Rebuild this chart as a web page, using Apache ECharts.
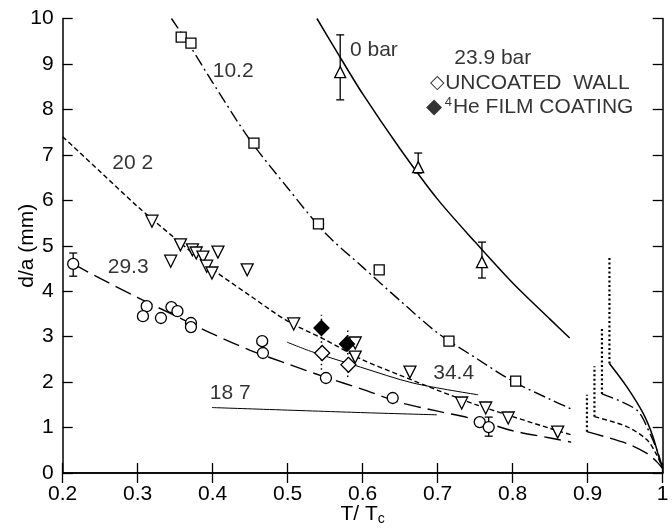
<!DOCTYPE html>
<html>
<head>
<meta charset="utf-8">
<script src="https://cdn.jsdelivr.net/npm/echarts@6/dist/echarts.min.js"></script>
<style>
  html, body { margin: 0; padding: 0; background: #fff; }
  #chart { width: 672px; height: 531px; }
</style>
</head>
<body>
<div id="chart"></div>
<script>
// ---- data ----
const xTicks = [0.2, 0.3, 0.4, 0.5, 0.6, 0.7, 0.8, 0.9, 1];
const yTicks = [0, 1, 2, 3, 4, 5, 6, 7, 8, 9, 10];

// 0 bar (triangles, solid)
const zeroBarPts = [[0.57, 8.82], [0.674, 6.73], [0.759, 4.64]];
const zeroBarErr = [[0.57, 8.21, 9.64], [0.674, 6.6, 7.04], [0.759, 4.29, 5.08]];
const zeroBarCurve = [[0.539, 10.0], [0.564, 9.31], [0.6, 8.34], [0.65, 7.13], [0.7, 6.02],
  [0.75, 5.08], [0.8, 4.18], [0.85, 3.38], [0.876, 2.97]];
const zeroBarTail = [[0.929, 2.41], [0.952, 1.9], [0.974, 1.31], [0.987, 0.8], [0.996, 0.29], [1.0, 0.1]];

// 10.2 bar (squares, dash-dot)
const p102Pts = [[0.358, 9.59], [0.371, 9.46], [0.455, 7.26], [0.541, 5.48], [0.622, 4.47], [0.715, 2.9], [0.804, 2.02]];
const p102Curve = [[0.345, 10.0], [0.373, 9.31], [0.4, 8.59], [0.45, 7.32], [0.5, 6.27], [0.55, 5.28],
  [0.6, 4.53], [0.65, 3.79], [0.7, 3.08], [0.75, 2.54], [0.8, 2.02], [0.85, 1.62], [0.878, 1.41]];
const p102Tail = [[0.919, 1.74], [0.965, 1.39], [0.983, 0.87], [0.994, 0.43], [1.0, 0.1]];

// 20.2 bar (down triangles, short dash)
const p202Pts = [[0.319, 5.54], [0.357, 5.02], [0.373, 4.91], [0.378, 4.84], [0.387, 4.75], [0.392, 4.55],
  [0.399, 4.4], [0.407, 4.86], [0.344, 4.66], [0.446, 4.47], [0.508, 3.28], [0.59, 2.86], [0.59, 2.55],
  [0.663, 2.22], [0.732, 1.54], [0.764, 1.43], [0.794, 1.21], [0.86, 0.9]];
const p202Curve = [[0.2, 7.4], [0.25, 6.63], [0.3, 5.86], [0.35, 5.16], [0.4, 4.48], [0.45, 3.9], [0.5, 3.34],
  [0.55, 2.93], [0.6, 2.49], [0.65, 2.15], [0.7, 1.82], [0.75, 1.51], [0.8, 1.24], [0.85, 0.98], [0.878, 0.84]];
const p202Tail = [[0.909, 1.24], [0.952, 1.02], [0.979, 0.73], [0.992, 0.4], [1.0, 0.1]];

// 29.3 bar (circles, long dash)
const p293Pts = [[0.214, 4.6], [0.312, 3.67], [0.307, 3.45], [0.331, 3.41], [0.345, 3.65], [0.353, 3.56],
  [0.371, 3.3], [0.371, 3.21], [0.466, 2.9], [0.467, 2.64], [0.551, 2.09], [0.64, 1.65], [0.756, 1.12], [0.768, 1.01]];
const p293Err = [[0.214, 4.33, 4.84], [0.768, 0.81, 1.23]];
const p293Curve = [[0.214, 4.6], [0.25, 4.28], [0.3, 3.86], [0.35, 3.46], [0.4, 3.06], [0.45, 2.7], [0.5, 2.4],
  [0.55, 2.11], [0.6, 1.84], [0.65, 1.55], [0.7, 1.36], [0.75, 1.18], [0.8, 0.93], [0.85, 0.77], [0.878, 0.68]];
const p293Tail = [[0.899, 0.91], [0.952, 0.65], [0.979, 0.43], [0.992, 0.25], [1.0, 0.1]];

// thin solid lines 18.7 and 34.4
const p187Line = [[0.399, 1.44], [0.597, 1.33], [0.699, 1.28]];
const p344Line = [[0.499, 2.88], [0.532, 2.67], [0.597, 2.33], [0.667, 1.98], [0.754, 1.72]];

// 23.9 bar diamonds
const uncoatedPts = [[0.546, 2.64], [0.581, 2.38]];
const coatedPts = [[0.545, 3.19], [0.579, 2.84]];
const diamondBars = [[0.545, 2.27, 3.48], [0.58, 2.11, 3.15]];

// dotted connectors near Tc
const tcSteps = [[0.929, 2.41, 4.76], [0.919, 1.74, 3.18], [0.909, 1.24, 2.35], [0.899, 0.91, 1.72]];

// text labels [x, y, text]
const curveLabels = [
  [0.583, 9.31, '0 bar'],
  [0.722, 9.13, '23.9 bar'],
  [0.69, 8.58, '{big|◇}UNCOATED  WALL'],
  [0.684, 8.05, '◆{sup|4}He FILM COATING'],
  [0.4, 8.84, '10.2'],
  [0.266, 6.82, '20 2'],
  [0.26, 4.53, '29.3'],
  [0.396, 1.76, '18 7'],
  [0.694, 2.2, '34.4']
];

const FONT = "'Liberation Sans', Arial, sans-serif";
const INK = '#000';

function lineSeries(data, dash, width) {
  return {
    type: 'line', data: data, smooth: 0.3, symbol: 'none', silent: true,
    lineStyle: { color: INK, width: width || 1.4, type: dash || 'solid' }, z: 2
  };
}

function barSeries(data, capW, dash, width) {
  return {
    type: 'custom', data: data, silent: true, z: 3,
    encode: { x: 0, y: [1, 2] },
    renderItem: function (params, api) {
      const lo = api.coord([api.value(0), api.value(1)]);
      const hi = api.coord([api.value(0), api.value(2)]);
      const st = { stroke: INK, lineWidth: width || 1.2, lineDash: dash || null };
      const kids = [{ type: 'line', shape: { x1: lo[0], y1: lo[1], x2: hi[0], y2: hi[1] }, style: st }];
      if (capW) {
        kids.push({ type: 'line', shape: { x1: lo[0] - capW, y1: lo[1], x2: lo[0] + capW, y2: lo[1] }, style: st });
        kids.push({ type: 'line', shape: { x1: hi[0] - capW, y1: hi[1], x2: hi[0] + capW, y2: hi[1] }, style: st });
      }
      return { type: 'group', children: kids };
    }
  };
}

function markSeries(data, symbol, size, fill, rotate) {
  return {
    type: 'scatter', data: data, symbol: symbol, symbolSize: size, symbolRotate: rotate || 0, silent: true, z: 4,
    itemStyle: { color: fill, borderColor: INK, borderWidth: 1.3, opacity: 1 }
  };
}

const chart = echarts.init(document.getElementById('chart'), null, { renderer: 'canvas' });

const option = {
  animation: false,
  backgroundColor: '#fff',
  textStyle: { fontFamily: FONT, color: INK },
  grid: { left: 62.7, right: 9.3, top: 18.5, bottom: 58 },
  xAxis: [
    {
      type: 'value', min: 0.2, max: 1, interval: 0.1,
      name: 'T/ T{sub|c}', nameLocation: 'middle', nameGap: 29, nameMoveOverlap: false,
      nameTextStyle: { fontSize: 21, color: INK, fontFamily: FONT, rich: { sub: { fontSize: 14, padding: [10, 0, 0, 0], fontFamily: FONT, color: INK } } },
      axisLine: { lineStyle: { color: INK, width: 1.5 } },
      axisTick: { inside: true, length: 10, lineStyle: { color: INK, width: 1.3 } },
      axisLabel: { fontSize: 21, color: INK, margin: 11, fontFamily: FONT,
        formatter: function (v) { return xTicks.indexOf(+v.toFixed(1)) >= 0 ? String(+v.toFixed(1)) : ''; } },
      splitLine: { show: false }
    },
    {
      type: 'value', min: 0.2, max: 1, interval: 0.1, position: 'top',
      axisLine: { lineStyle: { color: INK, width: 1.5 } },
      axisTick: { inside: true, length: 10, lineStyle: { color: INK, width: 1.3 } },
      axisLabel: { show: false }, splitLine: { show: false }
    }
  ],
  yAxis: [
    {
      type: 'value', min: 0, max: 10, interval: 1,
      name: 'd/a (mm)', nameLocation: 'middle', nameGap: 25, nameMoveOverlap: false,
      nameTextStyle: { fontSize: 21, color: INK, fontFamily: FONT },
      axisLine: { lineStyle: { color: INK, width: 1.5 } },
      axisTick: { inside: true, length: 10, lineStyle: { color: INK, width: 1.3 } },
      axisLabel: { fontSize: 21, color: INK, margin: 9, fontFamily: FONT,
        formatter: function (v) { return yTicks.indexOf(v) >= 0 ? String(v) : ''; } },
      splitLine: { show: false }
    },
    {
      type: 'value', min: 0, max: 10, interval: 1, position: 'right',
      axisLine: { show: true, lineStyle: { color: INK, width: 1.5 } },
      axisTick: { show: true, inside: true, length: 10, lineStyle: { color: INK, width: 1.3 } },
      axisLabel: { show: false }, splitLine: { show: false }
    }
  ],
  series: [
    lineSeries(zeroBarCurve, 'solid', 1.5),
    lineSeries(zeroBarTail, 'solid', 1.5),
    lineSeries(p102Curve, [12, 4, 2, 4], 1.4),
    lineSeries(p102Tail, [12, 4, 2, 4], 1.4),
    lineSeries(p202Curve, [5, 3], 1.4),
    lineSeries(p202Tail, [5, 3], 1.4),
    lineSeries(p293Curve, [17, 7], 1.4),
    lineSeries(p293Tail, [17, 7], 1.4),
    lineSeries(p187Line, 'solid', 1),
    lineSeries(p344Line, 'solid', 1),
    barSeries(tcSteps, 0, [2, 2.5], 2.2),
    barSeries(diamondBars, 0, [1.5, 3], 1.5),
    barSeries(zeroBarErr, 4, null, 1.3),
    barSeries(p293Err, 4, null, 1.3),
    markSeries(zeroBarPts, 'triangle', 11, '#fff'),
    markSeries(p102Pts, 'rect', 10, '#fff'),
    markSeries(p202Pts, 'triangle', 12, '#fff', 180),
    markSeries(p293Pts, 'circle', 11, '#fff'),
    markSeries(uncoatedPts, 'diamond', 15, '#fff'),
    markSeries(coatedPts, 'diamond', 15, INK),
    {
      type: 'scatter', data: curveLabels, symbolSize: 0, silent: true, z: 5,
      label: {
        show: true, position: [0, 0], align: 'left', verticalAlign: 'middle',
        fontSize: 21, color: INK, fontFamily: FONT,
        formatter: function (p) { return p.data[2]; },
        rich: {
          sup: { fontSize: 13, padding: [0, 1, 9, 3], fontFamily: FONT, color: INK },
          big: { fontSize: 19, fontFamily: FONT, color: INK }
        }
      }
    }
  ]
};

chart.setOption(option);
window.addEventListener('resize', chart.resize);
</script>
</body>
</html>
